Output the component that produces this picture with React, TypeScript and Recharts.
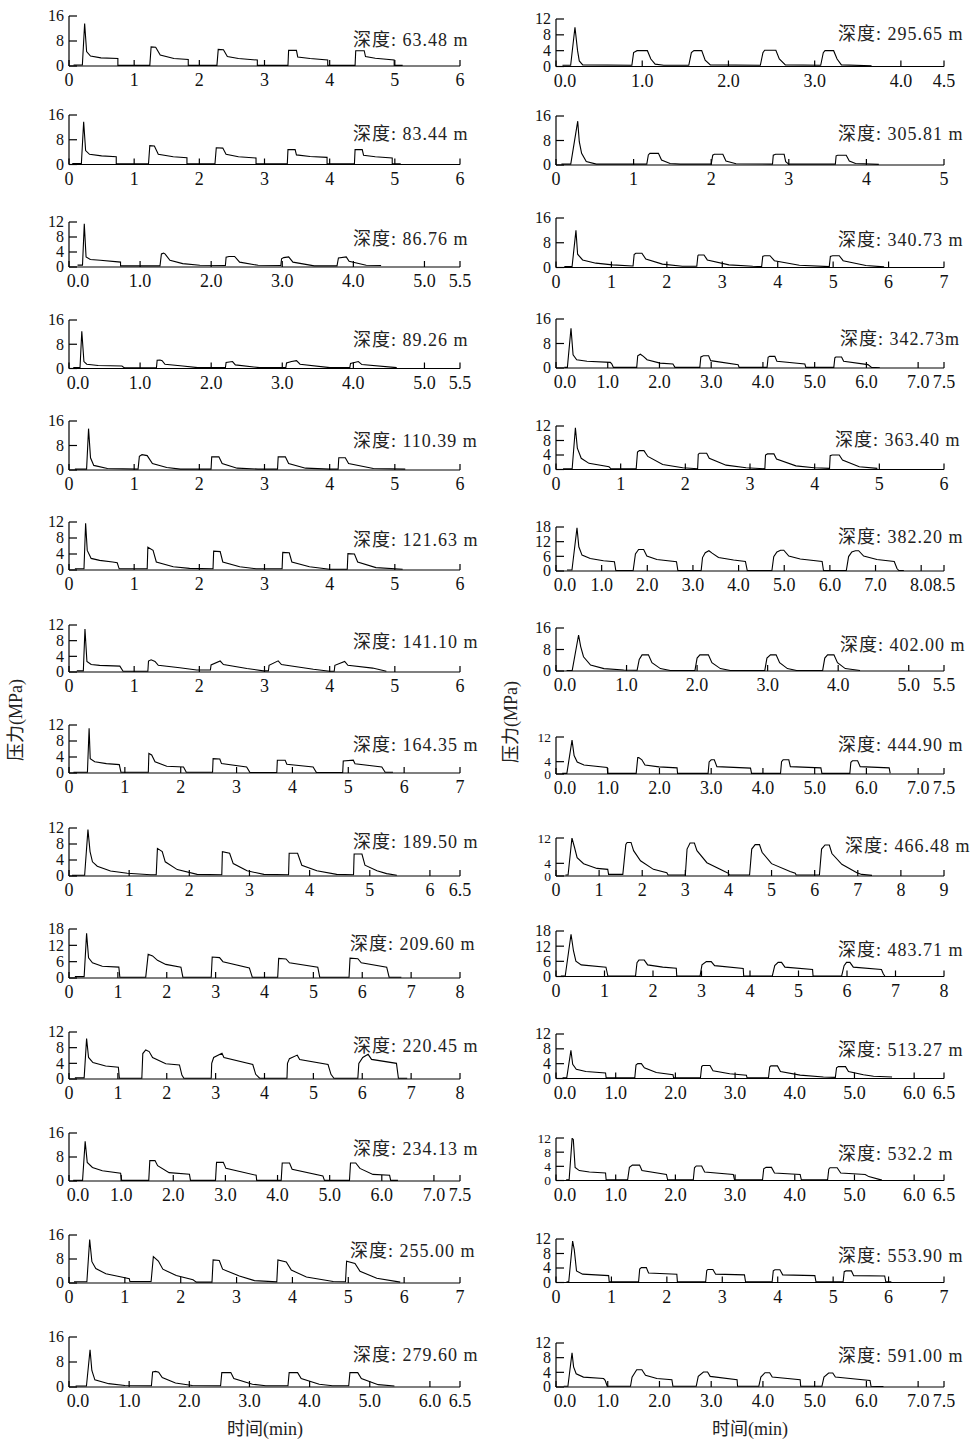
import React from "react";
import { LineChart, Line, XAxis, YAxis } from "recharts";

type Pt = [number, number];

// pressure records: [time (min), pressure (MPa)]
const rec6348: Pt[] = [[0.07,0.3],[0.205,0.3],[0.24,13.6],[0.27,4.6],[0.33,3.2],[0.49,2.6],[0.75,2.4],[0.75,0.2],[1.24,0.2],[1.26,6.1],[1.33,6.0],[1.40,3.5],[1.61,2.4],[1.83,2.1],[1.83,0.2],[2.27,0.2],[2.29,5.3],[2.37,5.2],[2.43,3.0],[2.6,2.4],[2.89,1.9],[2.89,0.2],[3.36,0.2],[3.37,5.0],[3.49,5.0],[3.51,2.9],[3.7,2.4],[3.97,1.9],[3.97,0.2],[4.39,0.2],[4.4,4.9],[4.53,4.9],[4.55,3.0],[4.7,2.5],[4.99,1.9],[4.99,0.2],[5.12,0.2]];
const rec8344: Pt[] = [[0.05,0.3],[0.19,0.3],[0.225,13.8],[0.255,4.5],[0.315,3.3],[0.5,2.8],[0.725,2.5],[0.725,0.2],[1.22,0.2],[1.24,6.1],[1.31,6.0],[1.37,3.3],[1.6,2.5],[1.81,2.2],[1.81,0.2],[2.24,0.2],[2.26,5.4],[2.36,5.3],[2.41,3.3],[2.6,2.5],[2.87,2.1],[2.87,0.2],[3.35,0.2],[3.36,4.8],[3.47,4.8],[3.49,3.1],[3.7,2.6],[3.96,2.3],[3.96,0.2],[4.38,0.2],[4.39,4.8],[4.5,4.8],[4.52,3.0],[4.7,2.5],[4.96,2.1],[4.96,0.2],[5.09,0.2]];
const rec8676: Pt[] = [[0.12,0.5],[0.19,0.5],[0.215,11.5],[0.24,2.7],[0.3,2.0],[0.44,1.8],[0.725,1.3],[0.725,0.3],[1.28,0.3],[1.3,3.5],[1.33,3.7],[1.35,3.5],[1.42,1.8],[1.6,0.9],[1.84,0.45],[2.2,0.4],[2.21,2.6],[2.25,2.8],[2.33,2.8],[2.4,1.3],[2.66,0.45],[2.98,0.4],[2.99,2.2],[3.02,2.5],[3.09,2.7],[3.15,1.3],[3.45,0.3],[3.77,0.3],[3.79,2.4],[3.9,2.7],[3.94,1.5],[4.18,0.45],[4.39,0.4]];
const rec8926: Pt[] = [[0.06,0.3],[0.155,0.3],[0.18,12.3],[0.21,2.3],[0.25,1.4],[0.41,1.0],[0.745,0.8],[0.78,0.2],[1.23,0.2],[1.24,2.7],[1.28,2.8],[1.31,2.6],[1.35,1.4],[1.6,0.8],[1.81,0.3],[2.2,0.3],[2.21,2.0],[2.3,2.3],[2.34,1.2],[2.68,0.3],[3.05,0.3],[3.06,1.8],[3.13,2.3],[3.2,2.6],[3.25,1.4],[3.67,0.3],[3.95,0.3],[3.96,1.7],[4.07,2.3],[4.12,1.3],[4.61,0.3]];
const rec11039: Pt[] = [[0.09,0.3],[0.27,0.3],[0.3,13.5],[0.33,4.0],[0.38,1.5],[0.59,0.5],[1.06,0.3],[1.08,4.5],[1.12,5.0],[1.2,4.7],[1.28,2.1],[1.5,0.8],[1.71,0.3],[2.18,0.3],[2.19,4.3],[2.3,4.3],[2.35,2.1],[2.58,0.6],[2.9,0.3],[3.2,0.3],[3.21,4.3],[3.32,4.3],[3.37,2.1],[3.63,0.6],[4.0,0.3],[4.13,0.3],[4.14,4.0],[4.24,4.0],[4.29,2.1],[4.67,0.5],[5.16,0.3]];
const rec12163: Pt[] = [[0.09,0.3],[0.23,0.3],[0.255,11.7],[0.28,4.9],[0.34,2.9],[0.47,2.4],[0.67,2.0],[0.74,1.8],[0.77,0.3],[1.2,0.3],[1.21,5.7],[1.29,4.9],[1.34,2.0],[1.6,0.8],[1.85,0.4],[2.21,0.3],[2.22,4.7],[2.32,4.6],[2.36,2.0],[2.62,0.8],[2.87,0.3],[3.27,0.3],[3.28,4.4],[3.38,4.3],[3.42,2.0],[3.69,0.8],[4.0,0.2],[4.27,0.2],[4.28,4.1],[4.38,4.0],[4.43,2.0],[4.71,0.6],[5.12,0.2]];
const rec14110: Pt[] = [[0.12,0.3],[0.22,0.3],[0.245,11.0],[0.275,2.7],[0.34,1.9],[0.47,1.7],[0.78,1.5],[0.83,0.2],[1.21,0.2],[1.22,2.8],[1.26,3.1],[1.32,2.7],[1.37,1.7],[1.7,1.1],[1.96,0.5],[2.17,0.5],[2.18,1.8],[2.32,2.8],[2.37,1.9],[2.73,0.9],[2.98,0.3],[3.06,0.3],[3.07,1.7],[3.21,2.85],[3.26,1.9],[3.75,0.7],[4.0,0.2],[4.07,0.2],[4.08,1.7],[4.23,2.7],[4.28,1.7],[4.66,1.0],[4.87,0.2]];
const rec16435: Pt[] = [[0.08,0.2],[0.33,0.2],[0.36,11.2],[0.38,3.6],[0.46,2.8],[0.67,2.35],[0.9,2.1],[0.93,0.2],[1.42,0.2],[1.43,4.9],[1.48,4.5],[1.54,2.8],[1.75,1.7],[2.05,1.5],[2.1,0.2],[2.57,0.2],[2.58,3.6],[2.7,3.5],[2.73,2.35],[3.18,1.5],[3.24,0.1],[3.72,0.1],[3.73,3.2],[3.87,3.2],[3.9,2.2],[4.37,1.5],[4.43,0.1],[4.9,0.1],[4.91,3.0],[5.09,3.2],[5.12,2.3],[5.6,1.5],[5.66,0.2],[5.8,0.2]];
const rec18950: Pt[] = [[0.05,0.2],[0.26,0.2],[0.315,11.6],[0.35,6.1],[0.39,3.55],[0.47,2.45],[0.69,1.27],[0.97,0.68],[1.36,0.3],[1.45,0.3],[1.47,6.9],[1.55,6.1],[1.6,3.55],[1.8,1.6],[2.13,0.4],[2.54,0.3],[2.55,6.1],[2.67,5.7],[2.73,3.1],[2.96,1.3],[3.24,0.4],[3.65,0.3],[3.66,5.7],[3.8,5.7],[3.87,2.7],[4.12,1.3],[4.45,0.4],[4.73,0.3],[4.74,5.5],[4.87,5.5],[4.92,2.7],[5.12,1.3],[5.28,0.6],[5.45,0.2]];
const rec20960: Pt[] = [[0.12,0.5],[0.31,0.5],[0.36,16.4],[0.4,7.4],[0.48,5.6],[0.68,4.3],[1.02,4.0],[1.04,0.3],[1.57,0.3],[1.62,8.7],[1.71,8.1],[1.81,6.5],[1.98,5.0],[2.29,4.0],[2.33,0.3],[2.91,0.3],[2.93,7.7],[3.08,7.5],[3.15,6.0],[3.69,3.7],[3.75,0.3],[4.27,0.3],[4.29,7.2],[4.44,7.0],[4.51,5.6],[5.09,4.0],[5.13,0.3],[5.73,0.3],[5.75,7.3],[5.91,7.1],[5.98,5.6],[6.5,4.0],[6.55,0.3],[6.8,0.3]];
const rec22045: Pt[] = [[0.12,0.3],[0.31,0.3],[0.36,10.3],[0.4,5.5],[0.49,4.2],[0.75,3.3],[1.01,3.0],[1.03,0.2],[1.49,0.2],[1.51,6.5],[1.57,7.4],[1.64,7.0],[1.71,5.5],[1.98,3.9],[2.26,3.6],[2.31,1.0],[2.35,0.2],[2.91,0.2],[2.92,4.0],[2.96,5.5],[3.13,6.6],[3.17,5.5],[3.76,3.7],[3.82,1.2],[3.9,0.2],[4.46,0.2],[4.47,4.0],[4.51,5.2],[4.67,6.1],[4.72,5.0],[5.3,3.7],[5.36,1.2],[5.42,0.2],[5.91,0.2],[5.93,4.0],[6.01,5.5],[6.12,6.3],[6.19,5.0],[6.7,4.0],[6.74,0.2],[6.92,0.2]];
const rec23413: Pt[] = [[0.08,0.2],[0.26,0.2],[0.31,13.2],[0.35,6.2],[0.45,4.5],[0.64,3.4],[0.99,2.6],[1.01,0.2],[1.53,0.2],[1.55,6.8],[1.65,6.8],[1.7,5.1],[1.92,2.8],[2.31,2.25],[2.33,0.2],[2.81,0.2],[2.83,6.2],[2.96,6.2],[3.01,4.2],[3.59,1.9],[3.6,0.2],[4.07,0.2],[4.09,6.0],[4.23,6.0],[4.28,3.9],[4.87,1.7],[4.9,0.2],[5.38,0.2],[5.4,6.0],[5.5,6.0],[5.58,4.2],[5.83,2.2],[6.15,1.9],[6.17,0.2],[6.31,0.2]];
const rec25500: Pt[] = [[0.09,0.4],[0.32,0.4],[0.37,14.5],[0.41,7.1],[0.48,4.8],[0.66,3.1],[0.96,1.9],[1.08,1.4],[1.09,0.5],[1.47,0.5],[1.51,8.8],[1.6,7.3],[1.68,4.6],[1.92,2.5],[2.22,1.1],[2.28,0.3],[2.56,0.3],[2.58,7.7],[2.69,7.5],[2.75,4.6],[3.05,2.3],[3.32,0.8],[3.72,0.4],[3.74,7.7],[3.89,7.0],[3.98,4.3],[4.25,2.0],[4.73,0.5],[4.95,0.4],[4.97,7.3],[5.12,6.5],[5.21,3.9],[5.51,1.6],[5.93,0.3]];
const rec27960: Pt[] = [[0.11,0.3],[0.29,0.3],[0.35,11.9],[0.38,5.3],[0.43,2.3],[0.66,1.07],[0.93,0.5],[1.37,0.4],[1.39,4.8],[1.44,5.0],[1.49,4.7],[1.55,3.0],[1.77,1.3],[2.05,0.5],[2.52,0.4],[2.54,4.6],[2.69,4.6],[2.74,2.7],[3.05,0.9],[3.27,0.4],[3.64,0.4],[3.66,4.6],[3.8,4.6],[3.86,2.7],[4.16,0.9],[4.38,0.4],[4.65,0.4],[4.67,4.6],[4.8,4.6],[4.86,2.7],[5.14,0.75],[5.41,0.3]];
const rec29565: Pt[] = [[0.075,0.3],[0.17,0.3],[0.22,9.9],[0.25,4.0],[0.27,1.4],[0.31,0.4],[0.88,0.3],[0.9,3.5],[0.94,4.0],[1.06,4.0],[1.1,1.9],[1.15,0.6],[1.25,0.3],[1.54,0.3],[1.57,3.5],[1.6,4.0],[1.69,4.0],[1.73,1.6],[1.79,0.4],[2.37,0.3],[2.4,3.5],[2.42,4.1],[2.55,4.1],[2.59,1.9],[2.66,0.4],[3.07,0.3],[3.1,3.5],[3.12,4.0],[3.22,4.0],[3.26,1.9],[3.31,0.4],[3.66,0.2]];
const rec30581: Pt[] = [[0.07,0.3],[0.19,0.3],[0.28,14.3],[0.3,7.6],[0.33,3.8],[0.39,1.1],[0.52,0.3],[1.17,0.3],[1.19,3.3],[1.21,3.8],[1.32,3.8],[1.36,1.6],[1.47,0.5],[1.6,0.3],[2.0,0.3],[2.02,3.2],[2.04,3.5],[2.15,3.5],[2.19,1.3],[2.32,0.4],[2.79,0.3],[2.8,3.2],[2.83,3.5],[2.94,3.5],[2.96,1.1],[3.0,0.3],[3.6,0.3],[3.61,3.0],[3.63,3.2],[3.74,3.2],[3.78,1.3],[3.86,0.5],[4.16,0.2]];
const rec34073: Pt[] = [[0.15,0.3],[0.29,0.3],[0.36,12.0],[0.39,4.3],[0.48,2.45],[0.72,1.4],[1.02,0.85],[1.38,0.5],[1.39,0.5],[1.41,4.2],[1.44,4.6],[1.55,4.6],[1.62,2.7],[1.92,1.1],[2.28,0.4],[2.54,0.4],[2.56,3.8],[2.57,4.05],[2.67,4.05],[2.73,2.45],[3.12,0.85],[3.55,0.4],[3.71,0.3],[3.73,3.6],[3.76,3.8],[3.86,3.8],[3.94,2.2],[4.39,0.75],[4.93,0.3],[4.95,3.6],[4.99,3.8],[5.11,3.8],[5.18,2.2],[5.59,0.65],[5.92,0.2]];
const rec34273: Pt[] = [[0.16,0.2],[0.22,0.2],[0.29,13.0],[0.33,4.3],[0.4,2.7],[0.6,2.2],[1.05,1.85],[1.08,1.3],[1.11,0.2],[1.56,0.2],[1.58,4.0],[1.63,4.5],[1.69,3.8],[1.76,2.7],[2.01,1.6],[2.26,1.3],[2.3,0.2],[2.78,0.2],[2.8,3.6],[2.85,4.0],[2.95,4.0],[2.99,2.4],[3.52,1.1],[3.54,0.2],[4.08,0.2],[4.1,3.5],[4.13,3.8],[4.23,3.8],[4.27,2.2],[4.81,1.3],[4.83,0.2],[5.37,0.2],[5.39,3.3],[5.41,3.6],[5.52,3.6],[5.56,2.2],[6.03,1.1],[6.1,0.2],[6.26,0.1]];
const rec36340: Pt[] = [[0.11,0.2],[0.25,0.2],[0.3,11.5],[0.33,5.9],[0.39,3.1],[0.51,1.7],[0.82,0.75],[0.85,0.2],[1.24,0.2],[1.26,4.8],[1.29,5.2],[1.36,5.2],[1.42,3.6],[1.65,1.4],[1.96,0.5],[2.19,0.2],[2.2,4.2],[2.22,4.5],[2.33,4.5],[2.37,3.1],[2.63,1.2],[2.94,0.5],[3.23,0.2],[3.24,4.0],[3.27,4.3],[3.37,4.3],[3.41,2.9],[3.71,1.0],[3.99,0.5],[4.23,0.3],[4.24,3.8],[4.27,4.0],[4.38,4.0],[4.43,2.6],[4.69,0.75],[4.97,0.3]];
const rec38220: Pt[] = [[0.24,0.4],[0.35,0.4],[0.46,17.7],[0.5,9.9],[0.57,6.5],[0.75,5.1],[1.04,4.2],[1.28,3.8],[1.31,0.2],[1.69,0.2],[1.74,7.0],[1.81,8.8],[1.92,8.8],[1.99,6.1],[2.21,4.7],[2.64,3.8],[2.67,0.2],[3.18,0.2],[3.21,5.5],[3.27,7.5],[3.35,8.3],[3.42,7.3],[3.56,5.5],[3.89,4.5],[4.15,3.9],[4.19,0.2],[4.73,0.2],[4.77,5.9],[4.84,7.8],[4.92,8.5],[4.99,8.5],[5.1,6.1],[5.35,4.9],[5.83,3.9],[5.86,0.2],[6.36,0.2],[6.41,5.9],[6.48,7.8],[6.56,8.3],[6.63,8.3],[6.74,6.1],[7.03,4.7],[7.41,3.9],[7.47,1.0],[7.51,0.2],[7.62,0.2]];
const rec40200: Pt[] = [[0.15,0.2],[0.23,0.2],[0.32,13.4],[0.35,9.1],[0.39,5.3],[0.49,2.2],[0.68,0.9],[0.96,0.35],[1.15,0.3],[1.18,4.3],[1.22,6.0],[1.31,6.0],[1.36,3.1],[1.48,0.9],[1.62,0.2],[1.97,0.2],[2.0,4.8],[2.04,6.0],[2.16,6.0],[2.21,3.1],[2.33,0.9],[2.47,0.2],[2.96,0.2],[2.99,4.8],[3.04,6.0],[3.12,6.0],[3.17,3.1],[3.28,0.9],[3.41,0.2],[3.78,0.2],[3.81,4.8],[3.85,6.0],[3.94,6.0],[3.99,3.1],[4.1,0.9],[4.31,0.2]];
const rec44490: Pt[] = [[0.12,0.2],[0.21,0.2],[0.31,11.0],[0.35,6.0],[0.41,3.9],[0.54,2.9],[0.99,2.1],[1.0,0.2],[1.55,0.2],[1.58,5.3],[1.6,5.3],[1.66,4.6],[1.72,2.9],[1.99,2.3],[2.34,2.0],[2.35,0.2],[2.94,0.2],[2.96,3.9],[3.0,4.6],[3.06,4.6],[3.11,2.4],[3.76,1.9],[3.78,0.2],[4.34,0.2],[4.36,4.0],[4.39,4.6],[4.5,4.6],[4.53,2.4],[5.12,2.0],[5.14,0.2],[5.68,0.2],[5.7,3.8],[5.73,4.3],[5.83,4.3],[5.88,2.4],[6.44,2.0],[6.46,0.2]];
const rec46648: Pt[] = [[0.22,0.3],[0.28,0.3],[0.37,12.0],[0.43,9.0],[0.49,5.8],[0.64,3.9],[0.95,2.4],[1.2,2.1],[1.22,0.5],[1.55,0.5],[1.62,10.0],[1.65,10.6],[1.74,10.6],[1.8,8.0],[1.96,4.8],[2.26,2.1],[2.57,1.06],[2.6,0.3],[3.0,0.3],[3.04,8.5],[3.11,10.4],[3.21,10.4],[3.27,8.0],[3.5,4.2],[3.89,1.6],[4.0,0.85],[4.02,0.3],[4.49,0.3],[4.54,8.5],[4.62,9.9],[4.72,9.9],[4.78,7.5],[5.0,3.9],[5.43,1.4],[5.55,0.85],[5.57,0.3],[6.11,0.3],[6.16,8.5],[6.24,9.8],[6.34,9.8],[6.4,7.1],[6.63,3.7],[6.98,1.06],[7.09,0.5],[7.33,0.2]];
const rec48371: Pt[] = [[0.1,0.2],[0.19,0.2],[0.31,16.7],[0.36,10.2],[0.41,6.1],[0.52,4.6],[1.03,3.7],[1.07,0.2],[1.64,0.2],[1.67,5.5],[1.71,6.5],[1.82,6.5],[1.89,4.6],[2.2,3.7],[2.48,3.3],[2.49,0.2],[2.97,0.2],[3.01,4.6],[3.1,5.9],[3.2,5.9],[3.27,4.3],[3.86,3.2],[3.87,0.2],[4.46,0.2],[4.51,4.3],[4.58,5.6],[4.65,5.6],[4.72,3.7],[5.29,2.8],[5.3,0.2],[5.89,0.2],[5.94,4.3],[5.99,5.6],[6.06,5.6],[6.13,3.7],[6.71,2.8],[6.75,1.0],[6.78,0.2]];
const rec51327: Pt[] = [[0.11,0.2],[0.18,0.2],[0.25,7.6],[0.28,3.8],[0.34,2.5],[0.5,1.9],[0.83,1.5],[0.84,0.2],[1.32,0.2],[1.34,3.6],[1.37,4.0],[1.43,4.0],[1.48,2.9],[1.68,1.6],[1.96,1.0],[1.97,0.2],[2.42,0.2],[2.44,3.2],[2.46,3.5],[2.58,3.5],[2.63,2.1],[2.91,1.3],[3.19,0.9],[3.2,0.2],[3.56,0.2],[3.58,3.1],[3.6,3.4],[3.71,3.4],[3.76,1.9],[4.09,0.9],[4.48,0.4],[4.68,0.3],[4.7,2.9],[4.73,3.2],[4.85,3.2],[4.9,1.9],[5.15,1.0],[5.32,0.6],[5.63,0.4]];
const rec5322: Pt[] = [[0.17,0.2],[0.22,0.2],[0.27,11.9],[0.29,11.6],[0.32,3.7],[0.39,2.8],[0.56,2.4],[0.83,2.1],[0.84,0.2],[1.2,0.2],[1.23,3.7],[1.28,4.35],[1.4,4.35],[1.44,2.8],[1.85,1.7],[1.87,0.2],[2.3,0.2],[2.32,3.6],[2.35,4.1],[2.44,4.1],[2.49,2.4],[2.97,1.7],[2.99,0.2],[3.46,0.2],[3.48,3.3],[3.52,3.7],[3.61,3.7],[3.66,2.1],[4.09,1.7],[4.11,0.2],[4.55,0.2],[4.57,3.2],[4.59,3.6],[4.71,3.6],[4.77,2.1],[5.18,1.7],[5.24,1.1],[5.46,0.1]];
const rec55390: Pt[] = [[0.19,0.2],[0.23,0.2],[0.3,11.4],[0.33,9.0],[0.37,3.2],[0.48,2.3],[0.95,1.9],[0.96,0.2],[1.49,0.2],[1.51,3.7],[1.54,4.1],[1.63,4.1],[1.67,2.6],[2.18,2.3],[2.19,0.2],[2.7,0.2],[2.72,3.3],[2.74,3.6],[2.83,3.6],[2.88,2.3],[3.4,2.1],[3.42,0.2],[3.9,0.2],[3.92,3.2],[3.95,3.5],[4.04,3.5],[4.09,2.1],[4.67,1.9],[4.69,0.2],[5.18,0.2],[5.2,3.0],[5.23,3.2],[5.33,3.2],[5.37,1.9],[5.93,1.8],[5.95,0.2],[6.05,0.2]];
const rec59100: Pt[] = [[0.15,0.2],[0.23,0.2],[0.31,9.3],[0.34,5.5],[0.39,3.6],[0.53,2.7],[0.92,2.3],[0.95,1.8],[0.99,0.2],[1.44,0.2],[1.47,2.7],[1.56,4.7],[1.66,4.7],[1.73,3.2],[1.95,2.3],[2.24,2.0],[2.26,0.2],[2.71,0.2],[2.75,2.9],[2.85,4.1],[2.93,4.1],[2.98,2.9],[3.5,2.0],[3.51,0.2],[3.92,0.2],[3.96,2.7],[4.04,3.9],[4.13,3.9],[4.18,2.7],[4.72,2.0],[4.73,0.2],[5.14,0.2],[5.18,2.7],[5.27,3.8],[5.35,3.8],[5.4,2.7],[6.07,1.8],[6.09,0.2],[6.33,0.1]];

// axis ticks
const xt45 = [0, 1, 2, 3, 4, 4.5];
const xt5 = [0, 1, 2, 3, 4, 5];
const xt55 = [0, 1, 2, 3, 4, 5, 5.5];
const xt6 = [0, 1, 2, 3, 4, 5, 6];
const xt65 = [0, 1, 2, 3, 4, 5, 6, 6.5];
const xt7 = [0, 1, 2, 3, 4, 5, 6, 7];
const xt75 = [0, 1, 2, 3, 4, 5, 6, 7, 7.5];
const xt8 = [0, 1, 2, 3, 4, 5, 6, 7, 8];
const xt85 = [0, 1, 2, 3, 4, 5, 6, 7, 8, 8.5];
const xt9 = [0, 1, 2, 3, 4, 5, 6, 7, 8, 9];
const yt16 = [0, 8, 16];
const yt12 = [0, 4, 8, 12];
const yt12b = [0, 4, 12];
const yt18 = [0, 6, 12, 18];

const FONT = "'Liberation Serif', 'Times New Roman', 'Noto Sans CJK SC', serif";

interface PanelSpec {
  data: Pt[];
  xTicks: number[];
  dec: boolean;
  yTicks: number[];
  label: string;
  col: number;
  base: number;
  top: number;
  labelY: number;
  labelDx?: number;
}

const panels: PanelSpec[] = [
  { data: rec6348, xTicks: xt6, dec: false, yTicks: yt16, label: "63.48 m", col: 0, base: 66, top: 16, labelY: 40 },
  { data: rec8344, xTicks: xt6, dec: false, yTicks: yt16, label: "83.44 m", col: 0, base: 164.5, top: 115, labelY: 134 },
  { data: rec8676, xTicks: xt55, dec: true, yTicks: yt12, label: "86.76 m", col: 0, base: 267, top: 222, labelY: 239 },
  { data: rec8926, xTicks: xt55, dec: true, yTicks: yt16, label: "89.26 m", col: 0, base: 368, top: 319.5, labelY: 340 },
  { data: rec11039, xTicks: xt6, dec: false, yTicks: yt16, label: "110.39 m", col: 0, base: 469.5, top: 420.5, labelY: 441 },
  { data: rec12163, xTicks: xt6, dec: false, yTicks: yt12, label: "121.63 m", col: 0, base: 570, top: 522, labelY: 540 },
  { data: rec14110, xTicks: xt6, dec: false, yTicks: yt12, label: "141.10 m", col: 0, base: 672, top: 625, labelY: 642 },
  { data: rec16435, xTicks: xt7, dec: false, yTicks: yt12, label: "164.35 m", col: 0, base: 773, top: 725, labelY: 745 },
  { data: rec18950, xTicks: xt65, dec: false, yTicks: yt12, label: "189.50 m", col: 0, base: 876, top: 828, labelY: 842 },
  { data: rec20960, xTicks: xt8, dec: false, yTicks: yt18, label: "209.60 m", col: 0, base: 978, top: 929, labelY: 944, labelDx: -3 },
  { data: rec22045, xTicks: xt8, dec: false, yTicks: yt12, label: "220.45 m", col: 0, base: 1079, top: 1032, labelY: 1046 },
  { data: rec23413, xTicks: xt75, dec: true, yTicks: yt16, label: "234.13 m", col: 0, base: 1181, top: 1133, labelY: 1149 },
  { data: rec25500, xTicks: xt7, dec: false, yTicks: yt16, label: "255.00 m", col: 0, base: 1283, top: 1235, labelY: 1251, labelDx: -3 },
  { data: rec27960, xTicks: xt65, dec: true, yTicks: yt16, label: "279.60 m", col: 0, base: 1386.5, top: 1336.5, labelY: 1355 },
  { data: rec29565, xTicks: xt45, dec: true, yTicks: yt12, label: "295.65 m", col: 1, base: 66, top: 18.5, labelY: 34 },
  { data: rec30581, xTicks: xt5, dec: false, yTicks: yt16, label: "305.81 m", col: 1, base: 165, top: 116, labelY: 134 },
  { data: rec34073, xTicks: xt7, dec: false, yTicks: yt16, label: "340.73 m", col: 1, base: 267.5, top: 218, labelY: 240 },
  { data: rec34273, xTicks: xt75, dec: true, yTicks: yt16, label: "342.73m", col: 1, base: 368, top: 319, labelY: 339, labelDx: 2 },
  { data: rec36340, xTicks: xt6, dec: false, yTicks: yt12, label: "363.40 m", col: 1, base: 469.5, top: 426, labelY: 440, labelDx: -3 },
  { data: rec38220, xTicks: xt85, dec: true, yTicks: yt18, label: "382.20 m", col: 1, base: 571, top: 527, labelY: 537 },
  { data: rec40200, xTicks: xt55, dec: true, yTicks: yt16, label: "402.00 m", col: 1, base: 671, top: 628, labelY: 645, labelDx: 2 },
  { data: rec44490, xTicks: xt75, dec: true, yTicks: yt12b, label: "444.90 m", col: 1, base: 774, top: 737, labelY: 745 },
  { data: rec46648, xTicks: xt9, dec: false, yTicks: yt12b, label: "466.48 m", col: 1, base: 875.5, top: 837.5, labelY: 846, labelDx: 7 },
  { data: rec48371, xTicks: xt8, dec: false, yTicks: yt18, label: "483.71 m", col: 1, base: 976.5, top: 931, labelY: 950 },
  { data: rec51327, xTicks: xt65, dec: true, yTicks: yt12, label: "513.27 m", col: 1, base: 1078.5, top: 1034, labelY: 1050 },
  { data: rec5322, xTicks: xt65, dec: true, yTicks: yt12, label: "532.2 m", col: 1, base: 1180.5, top: 1138, labelY: 1154 },
  { data: rec55390, xTicks: xt7, dec: false, yTicks: yt12, label: "553.90 m", col: 1, base: 1282, top: 1238.5, labelY: 1256 },
  { data: rec59100, xTicks: xt75, dec: true, yTicks: yt12, label: "591.00 m", col: 1, base: 1386.5, top: 1342.5, labelY: 1356 },
];

const COLS = [
  { x0: 69, x1: 460, labelX: 353 },
  { x0: 556, x1: 944, labelX: 838 },
];

const XTick = (props: any) => {
  const { x, y, payload, dec } = props;
  const v = payload.value as number;
  const txt = dec ? v.toFixed(1) : String(v);
  const tx = dec && v === 0 ? x + 9 : x;
  return (
    <g>
      <line x1={x} x2={x} y1={y} y2={y - 6} stroke="#000" strokeWidth={1.2} />
      <text x={tx} y={y + 20} textAnchor="middle" fontSize={18} fontFamily={FONT} fill="#111">
        {txt}
      </text>
    </g>
  );
};

const YTick = (props: any) => {
  const { x, y, payload, fs } = props;
  return (
    <g>
      <line x1={x} x2={x + 8} y1={y} y2={y} stroke="#000" strokeWidth={1.2} />
      <text x={x - 5} y={y + fs * 0.34} textAnchor="end" fontSize={fs} fontFamily={FONT} fill="#111">
        {payload.value}
      </text>
    </g>
  );
};

function Panel({ spec }: { spec: PanelSpec }) {
  const c = COLS[spec.col];
  const plotW = c.x1 - c.x0;
  const plotH = spec.base - spec.top;
  const yAxisW = 40;
  const xAxisH = 28;
  const mTop = 10;
  const mRight = 30;
  const rows = spec.data.map(([t, p]) => ({ t, p }));
  const xMax = spec.xTicks[spec.xTicks.length - 1];
  const yMax = spec.yTicks[spec.yTicks.length - 1];
  // tightly stacked value labels get a slightly smaller size
  const gap = (plotH * spec.yTicks[1]) / yMax;
  const yFs = gap < 14.5 ? 13.5 : 16;
  return (
    <>
      <div style={{ position: "absolute", left: c.x0 - yAxisW, top: spec.top - mTop }}>
        <LineChart
          width={yAxisW + plotW + mRight}
          height={mTop + plotH + xAxisH}
          data={rows}
          margin={{ top: mTop, right: mRight, bottom: 0, left: 0 }}
        >
          <XAxis
            dataKey="t"
            type="number"
            domain={[0, xMax]}
            ticks={spec.xTicks}
            interval={0}
            height={xAxisH}
            tickSize={0}
            tickMargin={0}
            tickLine={false}
            allowDataOverflow
            axisLine={{ stroke: "#000", strokeWidth: 1.2 }}
            tick={(p: any) => <XTick {...p} dec={spec.dec} />}
          />
          <YAxis
            type="number"
            domain={[0, yMax]}
            ticks={spec.yTicks}
            interval={0}
            width={yAxisW}
            tickSize={0}
            tickMargin={0}
            tickLine={false}
            allowDataOverflow
            axisLine={{ stroke: "#000", strokeWidth: 1.2 }}
            tick={(p: any) => <YTick {...p} fs={yFs} />}
          />
          <Line
            dataKey="p"
            type="linear"
            stroke="#000"
            strokeWidth={1.1}
            dot={false}
            isAnimationActive={false}
          />
        </LineChart>
      </div>
      <div
        style={{
          position: "absolute",
          left: c.labelX + (spec.labelDx || 0),
          top: spec.labelY - 11,
          fontSize: 18,
          lineHeight: "22px",
          letterSpacing: 1,
          whiteSpace: "nowrap",
          fontFamily: FONT,
          color: "#222",
        }}
      >
        深度: {spec.label}
      </div>
    </>
  );
}

export default function App() {
  const title: React.CSSProperties = {
    position: "absolute",
    fontFamily: FONT,
    fontSize: 18,
    lineHeight: "20px",
    whiteSpace: "nowrap",
    color: "#222",
  };
  return (
    <div
      style={{
        position: "absolute",
        left: 0,
        top: 0,
        width: 977,
        height: 1443,
        background: "#fff",
        overflow: "hidden",
      }}
    >
      {panels.map((s, i) => (
        <Panel key={i} spec={s} />
      ))}
      <div style={{ ...title, left: 16, top: 720, transform: "translate(-50%, -50%) rotate(-90deg)" }}>压力(MPa)</div>
      <div style={{ ...title, left: 511, top: 722, transform: "translate(-50%, -50%) rotate(-90deg)" }}>压力(MPa)</div>
      <div style={{ ...title, left: 265, top: 1429, transform: "translate(-50%, -50%)" }}>时间(min)</div>
      <div style={{ ...title, left: 750, top: 1429, transform: "translate(-50%, -50%)" }}>时间(min)</div>
    </div>
  );
}
